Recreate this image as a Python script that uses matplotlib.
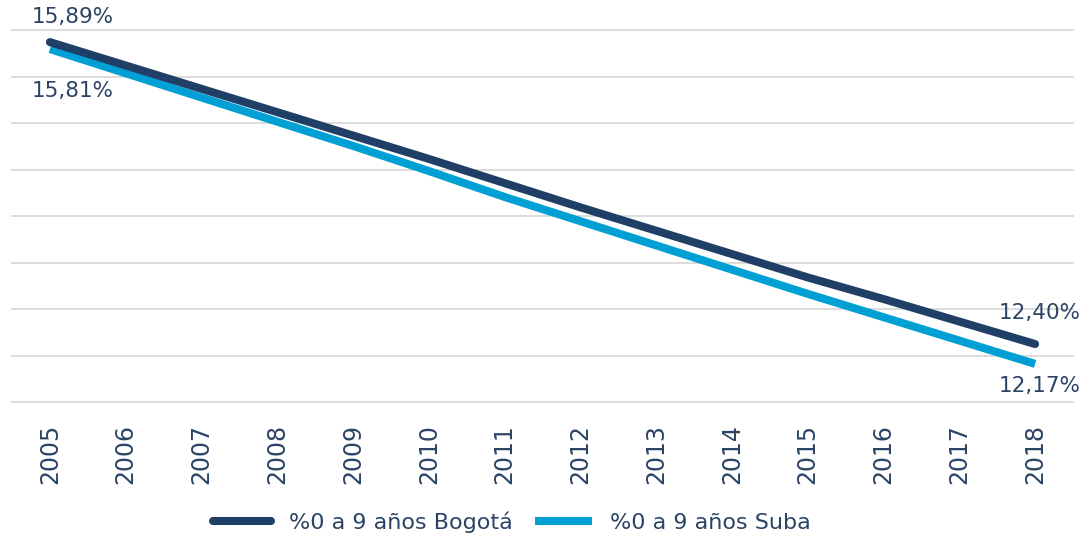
import numpy as np
from matplotlib import pyplot as plt

# data
years = ["2005", "2006", "2007", "2008", "2009", "2010", "2011",
         "2012", "2013", "2014", "2015", "2016", "2017", "2018"]
bogota = [15.89, 15.62, 15.35, 15.08, 14.81, 14.54, 14.26,
          13.98, 13.71, 13.44, 13.17, 12.92, 12.66, 12.40]
suba = [15.81, 15.53, 15.25, 14.97, 14.69, 14.40, 14.10,
        13.82, 13.54, 13.26, 12.98, 12.71, 12.44, 12.17]
series_names = ["%0 a 9 años Bogotá", "%0 a 9 años Suba"]

navy = "#203F66"
blue = "#009FD4"
txt = "#2B4466"
grid = "#D9D9D9"

fig = plt.figure(figsize=(10.84, 5.35), dpi=100)
ax = fig.add_axes([12/1084, 1 - 402/535, (1073 - 12)/1084, (402 - 30)/535])

x = np.arange(len(years))
ax.plot(x, bogota, color=navy, lw=5.8, solid_capstyle="round", label=series_names[0], zorder=3)
ax.plot(x, suba, color=blue, lw=5.8, solid_capstyle="butt", label=series_names[1], zorder=2)

ax.set_xlim(-0.5, len(years) - 0.5)
ylo, yhi = 11.73, 16.03
ax.set_ylim(ylo, yhi)
ax.set_yticks(np.linspace(ylo, yhi, 9))
ax.set_yticklabels([])
ax.yaxis.grid(True, color=grid, lw=1.3)
for gl in ax.get_ygridlines():
    gl.set_clip_on(False)
ax.set_axisbelow(True)
ax.tick_params(axis="y", length=0)
ax.set_xticks(x)
ax.set_xticklabels(years, rotation=90, fontsize=17, color=txt)
ax.tick_params(axis="x", length=0, pad=16)
for s in ax.spines.values():
    s.set_visible(False)

def fmt(v):
    return "{:.2f}%".format(v).replace(".", ",")

lab = dict(textcoords="offset pixels", ha="center", va="center", fontsize=15.5, color=txt)
ax.annotate(fmt(bogota[0]), (x[0], bogota[0]), xytext=(23, 25), **lab)
ax.annotate(fmt(suba[0]), (x[0], suba[0]), xytext=(23, -42), **lab)
ax.annotate(fmt(bogota[-1]), (x[-1], bogota[-1]), xytext=(5, 31), **lab)
ax.annotate(fmt(suba[-1]), (x[-1], suba[-1]), xytext=(5, -22), **lab)

leg = fig.legend(loc="center", bbox_to_anchor=(512/1084, 1 - 522/535), ncol=2, frameon=False,
                 fontsize=16, handlelength=2.6, columnspacing=1.0, handletextpad=0.8)
for t in leg.get_texts():
    t.set_color(txt)

fig.savefig("out.png", dpi=100)
